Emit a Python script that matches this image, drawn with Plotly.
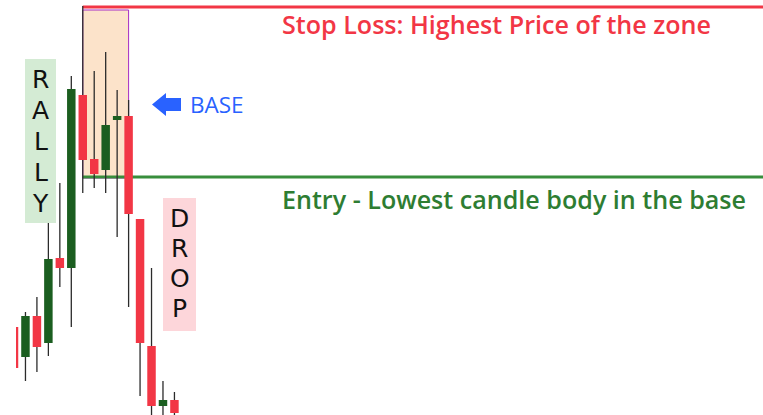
import plotly.graph_objects as go

# ---- data (price units) ----
candle_idx = list(range(15))
opens  = [88, 58, 99, 72, 157, 147, 320, 256, 245, 295, 299, 196, 69, 9, 15]
highs  = [88, 103, 118, 192, 232, 339, 409, 344, 363, 325, 315, 196, 147, 34, 23]
lows   = [47, 34, 43, 59, 128, 88, 222, 227, 222, 178, 108, 19, -5, -5, -3]
closes = [47, 99, 68, 156, 147, 326, 255, 241, 290, 299, 201, 72, 9, 15, 2]

stop_loss_price = 408
entry_price = 238
zone_top = 405
zone_bottom = 237
zone_start_idx = 6
zone_end_idx = 10

rally_letters = ["R", "A", "L", "L", "Y"]
drop_letters = ["D", "R", "O", "P"]
stop_text = "Stop Loss: Highest Price of the zone"
entry_text = "Entry - Lowest candle body in the base"
base_text = "BASE"

RED = "#F23645"
GREEN_BODY = "#1B5E20"
GREEN_LINE = "#388E3C"
GREEN_TEXT = "#2E7D32"
BLUE = "#2962FF"
WICK = "#2b2b2b"

# pixel helpers for layout decorations
X0, DX = 14.0, 11.46
def kx(px):
    return (px - X0) / DX
def py(p):
    return 415 - p

fig = go.Figure()

# wicks (drawn outside the bodies)
wx, wy = [], []
for i, o, h, l, c in zip(candle_idx, opens, highs, lows, closes):
    top, bot = max(o, c), min(o, c)
    if h > top:
        wx += [i, i, None]; wy += [top, h, None]
    if l < bot:
        wx += [i, i, None]; wy += [l, bot, None]
fig.add_trace(go.Scatter(x=wx, y=wy, mode="lines",
                         line=dict(color=WICK, width=1.3),
                         hoverinfo="skip", showlegend=False))

# bodies
fig.add_trace(go.Bar(
    x=candle_idx,
    y=[max(abs(c - o), 1) for o, c in zip(opens, closes)],
    base=[min(o, c) for o, c in zip(opens, closes)],
    width=0.74,
    marker=dict(color=[GREEN_BODY if c > o else RED for o, c in zip(opens, closes)],
                line=dict(width=0)),
    showlegend=False, hoverinfo="skip"))

shapes = []
# zone
shapes.append(dict(type="rect", xref="x", yref="y",
                   x0=zone_start_idx, x1=zone_end_idx, y0=zone_bottom, y1=zone_top,
                   fillcolor="#FCE3CA", line=dict(color="#A52CC4", width=1), layer="below"))
# lines
shapes.append(dict(type="line", xref="x", yref="y", x0=zone_start_idx, x1=kx(770),
                   y0=stop_loss_price, y1=stop_loss_price,
                   line=dict(color=RED, width=3), layer="below"))
shapes.append(dict(type="line", xref="x", yref="y", x0=zone_start_idx, x1=kx(770),
                   y0=entry_price, y1=entry_price,
                   line=dict(color=GREEN_LINE, width=3), layer="below"))
# label backgrounds
shapes.append(dict(type="rect", xref="x", yref="y", x0=kx(25), x1=kx(56), y0=py(223), y1=py(59),
                   fillcolor="#D4EBD4", line=dict(width=0), layer="below"))
shapes.append(dict(type="rect", xref="x", yref="y", x0=kx(163), x1=kx(196), y0=py(331), y1=py(198),
                   fillcolor="#FDD6DA", line=dict(width=0), layer="below"))
# arrow
ax_pts = [(152, 104.5), (166, 93), (166, 98), (181, 98), (181, 111), (166, 111), (166, 116)]
path = "M " + " L ".join(f"{kx(a)},{py(b)}" for a, b in ax_pts) + " Z"
shapes.append(dict(type="path", xref="x", yref="y", path=path,
                   fillcolor=BLUE, line=dict(width=0)))

annotations = []
for j, ch in enumerate(rally_letters):
    annotations.append(dict(x=kx(40.5), y=py(79 + 31 * j), text=ch, showarrow=False,
                            font=dict(family="DejaVu Sans", size=25, color="#111111"),
                            xanchor="center", yanchor="middle"))
for j, ch in enumerate(drop_letters):
    annotations.append(dict(x=kx(179.5), y=py(218 + 30 * j), text=ch, showarrow=False,
                            font=dict(family="DejaVu Sans", size=25, color="#111111"),
                            xanchor="center", yanchor="middle"))
annotations.append(dict(x=kx(280), y=py(24), text=stop_text, showarrow=False,
                        xanchor="left", yanchor="middle",
                        font=dict(family="Open Sans", size=25.1, weight=600, color=RED)))
annotations.append(dict(x=kx(280), y=py(199), text=entry_text, showarrow=False,
                        xanchor="left", yanchor="middle",
                        font=dict(family="Open Sans", size=25.1, weight=600, color=GREEN_TEXT)))
annotations.append(dict(x=kx(188), y=py(104), text=base_text, showarrow=False,
                        xanchor="left", yanchor="middle",
                        font=dict(family="Open Sans", size=22.5, color=BLUE)))

fig.update_layout(
    width=763, height=415,
    margin=dict(l=16, r=0, t=0, b=0),
    paper_bgcolor="white", plot_bgcolor="white",
    barmode="overlay",
    xaxis=dict(range=[kx(16), kx(763)], visible=False, fixedrange=True),
    yaxis=dict(range=[0, 415], visible=False, fixedrange=True),
    shapes=shapes, annotations=annotations,
    showlegend=False,
)
fig.write_html("out.html", config={"displayModeBar": False},
               post_script="document.body.style.margin='0';document.body.style.padding='0';document.body.style.overflow='hidden';")
